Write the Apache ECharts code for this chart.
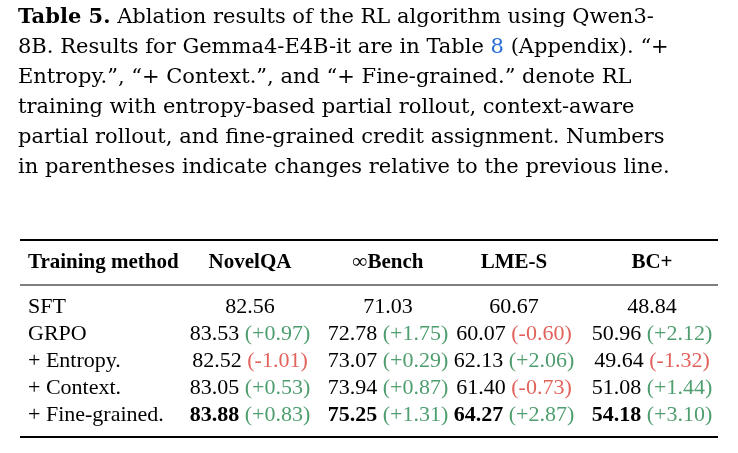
<!DOCTYPE html>
<html><head><meta charset="utf-8">
<script src="https://cdn.jsdelivr.net/npm/echarts@6/dist/echarts.min.js"></script>
<style>html,body{margin:0;background:#fff}#c{width:738px;height:453px}</style>
</head><body><div id="c"></div>
<script>
const captionLines = [
  [["b","Table 5."],["n"," Ablation results of the RL algorithm using Qwen3-"]],
  [["n","8B. Results for Gemma4-E4B-it are in Table "],["l","8"],["n"," (Appendix). “+"]],
  [["n","Entropy.”, “+ Context.”, and “+ Fine-grained.” denote RL"]],
  [["n","training with entropy-based partial rollout, context-aware"]],
  [["n","partial rollout, and fine-grained credit assignment. Numbers"]],
  [["n","in parentheses indicate changes relative to the previous line."]]
];
const headers = ["Training method","NovelQA","∞Bench","LME-S","BC+"];
const methods = ["SFT","GRPO","+ Entropy.","+ Context.","+ Fine-grained."];
const values = [
  ["82.56","71.03","60.67","48.84"],
  ["83.53","72.78","60.07","50.96"],
  ["82.52","73.07","62.13","49.64"],
  ["83.05","73.94","61.40","51.08"],
  ["83.88","75.25","64.27","54.18"]
];
const changes = [
  [null,null,null,null],
  ["+0.97","+1.75","-0.60","+2.12"],
  ["-1.01","+0.29","+2.06","-1.32"],
  ["+0.53","+0.87","-0.73","+1.44"],
  ["+0.83","+1.31","+2.87","+3.10"]
];
const boldRow = 4;

const CF = "'DejaVu Serif',serif";
const F = "'Liberation Serif','DejaVu Serif',serif";
const green = "#4f9e6f", red = "#e2625c";
const g = [];
const cs = 21;
captionLines.forEach((ln, i) => {
  g.push({type:"text", left:18, top:7 + i*30, style:{
    text: ln.map(p => "{" + p[0] + "|" + p[1] + "}").join(""),
    font: cs + "px " + CF,
    rich:{ b:{fontFamily:CF,fontSize:cs,fontWeight:"bold",fill:"#000"},
           n:{fontFamily:CF,fontSize:cs,fill:"#000"},
           l:{fontFamily:CF,fontSize:cs,fill:"#2a6fd6"} }
  }});
});
const xL = 20, xR = 718;
const rule = (y, w) => g.push({type:"line", shape:{x1:xL,y1:y,x2:xR,y2:y}, style:{stroke:"#000", lineWidth:w}});
rule(240, 2); rule(285, 1); rule(437, 2);
const colX = [28, 250, 388, 514, 652];
const fs = 22;
headers.forEach((h, j) => {
  g.push({type:"text", x:colX[j], y:263, style:{text:h, fontFamily:F, fontSize:fs-1, fontWeight:"bold",
    fill:"#000", align: j===0?"left":"center", verticalAlign:"middle"}});
});
methods.forEach((m, i) => {
  const y = 307 + i*27;
  g.push({type:"text", x:colX[0], y, style:{text:m, fontFamily:F, fontSize:fs, fill:"#000", verticalAlign:"middle"}});
  values[i].forEach((v, j) => {
    const c = changes[i][j];
    const vs = i===boldRow ? "{b|" + v + "}" : "{n|" + v + "}";
    const cstr = c ? " {" + (c[0]==="-"?"r":"g") + "|(" + c + ")}" : "";
    g.push({type:"text", x:colX[j+1], y, style:{text: vs + cstr, fontFamily:F, fontSize:fs,
      align:"center", verticalAlign:"middle",
      rich:{ n:{fontFamily:F,fontSize:fs,fill:"#000"}, b:{fontFamily:F,fontSize:fs,fontWeight:"bold",fill:"#000"},
             g:{fontFamily:F,fontSize:fs,fill:green}, r:{fontFamily:F,fontSize:fs,fill:red} }}});
  });
});
const chart = echarts.init(document.getElementById("c"));
chart.setOption({animation:false, graphic:g});
</script></body></html>
